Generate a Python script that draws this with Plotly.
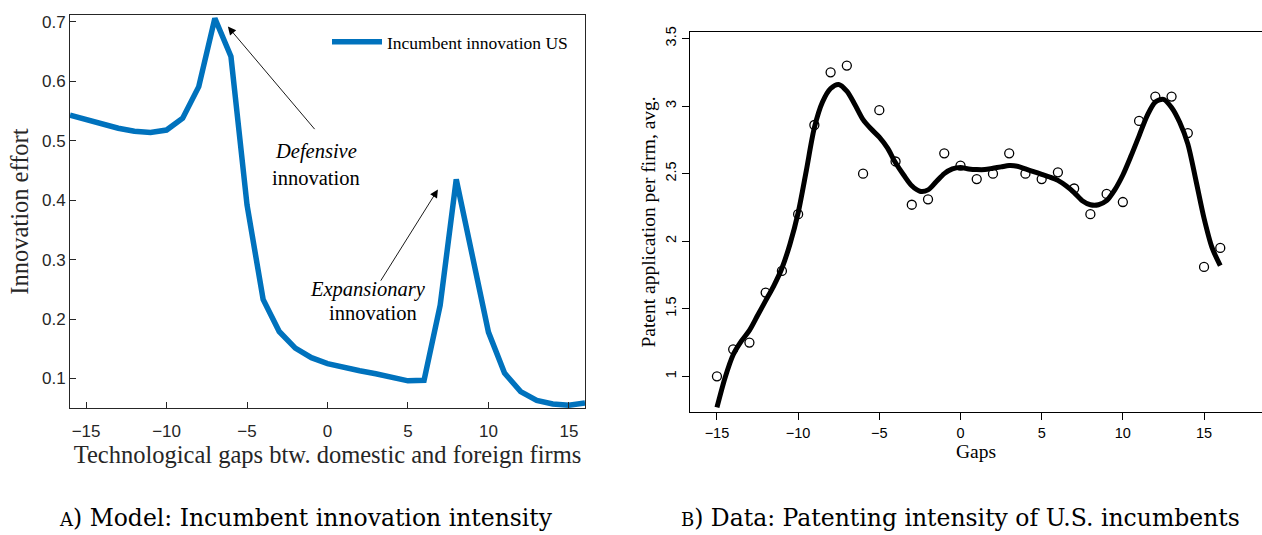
import plotly.graph_objects as go

# Panel A: model-implied incumbent innovation effort by technological gap
model_gaps = list(range(-16, 17))
model_effort = [0.543, 0.535, 0.528, 0.521, 0.516, 0.514, 0.518, 0.538, 0.591, 0.706,
                0.642, 0.392, 0.233, 0.179, 0.151, 0.135, 0.125, 0.118, 0.113, 0.108,
                0.103, 0.096, 0.097, 0.223, 0.435, 0.303, 0.178, 0.109, 0.078, 0.063,
                0.057, 0.055, 0.059]

# Panel B: observed patent applications per firm, with smoothed fit
data_gaps = list(range(-15, 17))
data_patents = [1.00, 1.20, 1.25, 1.62, 1.78, 2.20, 2.86, 3.25, 3.30, 2.50,
                2.97, 2.59, 2.27, 2.31, 2.65, 2.56, 2.46, 2.50, 2.65, 2.50,
                2.46, 2.51, 2.39, 2.20, 2.35, 2.29, 2.89, 3.07, 3.07, 2.80,
                1.81, 1.95]

fit_gaps = [-15, -14.5, -14, -13.5, -13, -12.5, -12, -11.5, -11, -10.5, -10, -9.5,
            -9, -8.5, -8, -7.5, -7, -6.5, -6, -5.5, -5, -4.5, -4, -3.5, -3, -2.5,
            -2, -1.5, -1, -0.5, 0, 0.5, 1, 1.5, 2, 2.5, 3, 3.5, 4, 4.5, 5, 5.5,
            6, 6.5, 7, 7.5, 8, 8.5, 9, 9.5, 10, 10.5, 11, 11.5, 12, 12.5, 13, 13.5,
            14, 14.5, 15, 15.5, 16]
fit_patents = [0.77, 0.99, 1.16, 1.26, 1.34, 1.45, 1.56, 1.67, 1.80, 1.98, 2.21, 2.52,
               2.84, 3.03, 3.13, 3.16, 3.11, 3.01, 2.90, 2.83, 2.77, 2.69, 2.58, 2.49,
               2.41, 2.37, 2.38, 2.44, 2.50, 2.535, 2.545, 2.535, 2.53, 2.53, 2.54, 2.55,
               2.56, 2.555, 2.535, 2.515, 2.495, 2.475, 2.45, 2.41, 2.36, 2.30, 2.27,
               2.27, 2.30, 2.38, 2.49, 2.63, 2.78, 2.93, 3.03, 3.05, 2.99, 2.88,
               2.72, 2.45, 2.17, 1.95, 1.82]

W, H = 1262, 535
SERIF = "Liberation Serif"
SANS = "Liberation Sans"
CAPTION_FONT = "DejaVu Serif"
MATLAB_BLUE = "#0072BD"
AX_GREY = "#262626"


def px_x(p):
    return p / W


def px_y(p):
    return 1 - p / H


fig = go.Figure()

fig.add_trace(go.Scatter(
    x=model_gaps, y=model_effort, mode="lines", name="Incumbent innovation US",
    line=dict(color=MATLAB_BLUE, width=5.5), xaxis="x", yaxis="y",
))

fig.add_trace(go.Scatter(
    x=data_gaps, y=data_patents, mode="markers", showlegend=False,
    marker=dict(symbol="circle-open", size=9, color="black", line=dict(width=1.3)),
    xaxis="x2", yaxis="y2",
))
fig.add_trace(go.Scatter(
    x=fit_gaps, y=fit_patents, mode="lines", showlegend=False,
    line=dict(color="black", width=5, shape="spline", smoothing=0.8),
    xaxis="x2", yaxis="y2",
))

tick_font_a = dict(family=SANS, size=17, color=AX_GREY)
tick_font_b = dict(family=SANS, size=14.5, color="black")

fig.update_layout(
    width=W, height=H,
    margin=dict(l=0, r=0, t=0, b=0),
    paper_bgcolor="white", plot_bgcolor="white",
    showlegend=True,
    legend=dict(
        x=px_x(327), y=px_y(19), xanchor="left", yanchor="top",
        bgcolor="rgba(0,0,0,0)", borderwidth=0, itemwidth=50,
        font=dict(family=SERIF, size=17.5, color="black"),
    ),
    xaxis=dict(
        domain=[px_x(70), px_x(585)], range=[-16, 16], anchor="y",
        tickvals=[-15, -10, -5, 0, 5, 10, 15],
        ticks="inside", ticklen=6, tickcolor=AX_GREY, ticklabelstandoff=7,
        showline=True, linecolor=AX_GREY, linewidth=1, mirror=True,
        showgrid=False, zeroline=False, tickfont=tick_font_a,
        title=dict(text="Technological gaps btw. domestic and foreign firms",
                   font=dict(family=SERIF, size=24.5, color=AX_GREY), standoff=2),
    ),
    yaxis=dict(
        domain=[px_y(407), px_y(10)], range=[0.05, 0.7117], anchor="x",
        tickvals=[0.1, 0.2, 0.3, 0.4, 0.5, 0.6, 0.7],
        ticks="inside", ticklen=6, tickcolor=AX_GREY,
        showline=True, linecolor=AX_GREY, linewidth=1, mirror=True,
        showgrid=False, zeroline=False, tickfont=tick_font_a,
        title=dict(text="Innovation effort",
                   font=dict(family=SERIF, size=24.5, color=AX_GREY), standoff=6),
    ),
    xaxis2=dict(
        domain=[px_x(690), 1.0], range=[-16.66, 18.57], anchor="y2",
        tickvals=[-15, -10, -5, 0, 5, 10, 15],
        ticks="outside", ticklen=7, tickcolor="black",
        showline=True, linecolor="black", linewidth=1.2, mirror=True,
        showgrid=False, zeroline=False, tickfont=tick_font_b,
        title=dict(text="Gaps", font=dict(family=SERIF, size=19.5, color="black"),
                   standoff=0),
    ),
    yaxis2=dict(
        domain=[px_y(411), px_y(27)], range=[0.735, 3.55], anchor="x2",
        tickvals=[1, 1.5, 2, 2.5, 3, 3.5], ticktext=["1", "1.5", "2", "2.5", "3", "3.5"],
        tickangle=-90,
        ticks="outside", ticklen=7, tickcolor="black",
        showline=True, linecolor="black", linewidth=1.2, mirror=False,
        showgrid=False, zeroline=False, tickfont=tick_font_b,
        title=dict(text="Patent application per firm, avg.",
                   font=dict(family=SERIF, size=19.5, color="black"), standoff=2),
    ),
)

# Arrows pointing to the two innovation peaks
arrows = [
    dict(head=(-6.19, 0.692), tail=(-0.72, 0.517)),
    dict(head=(6.86, 0.418), tail=(3.25, 0.262)),
]
for a in arrows:
    fig.add_annotation(
        x=a["head"][0], y=a["head"][1], ax=a["tail"][0], ay=a["tail"][1],
        xref="x", yref="y", axref="x", ayref="y", text="",
        showarrow=True, arrowhead=2, arrowsize=1.8, arrowwidth=0.9, arrowcolor="black",
    )

labels = [
    ("<i>Defensive</i>", -0.72, 0.482),
    ("innovation", -0.72, 0.437),
    ("<i>Expansionary</i>", 2.51, 0.250),
    ("innovation", 2.82, 0.210),
]
for txt, x, y in labels:
    fig.add_annotation(x=x, y=y, xref="x", yref="y", text=txt, showarrow=False,
                       font=dict(family=SERIF, size=20.5, color="black"))

captions = [
    ("<span style='font-size:18px'>A</span>) Model: Incumbent innovation intensity", 306),
    ("<span style='font-size:18px'>B</span>) Data: Patenting intensity of U.S. incumbents", 960),
]
for txt, cx in captions:
    fig.add_annotation(x=px_x(cx), y=px_y(518), xref="paper", yref="paper", text=txt,
                       showarrow=False, xanchor="center", yanchor="middle",
                       font=dict(family=CAPTION_FONT, size=23.5, color="black"))

fig.write_html("out.html")
